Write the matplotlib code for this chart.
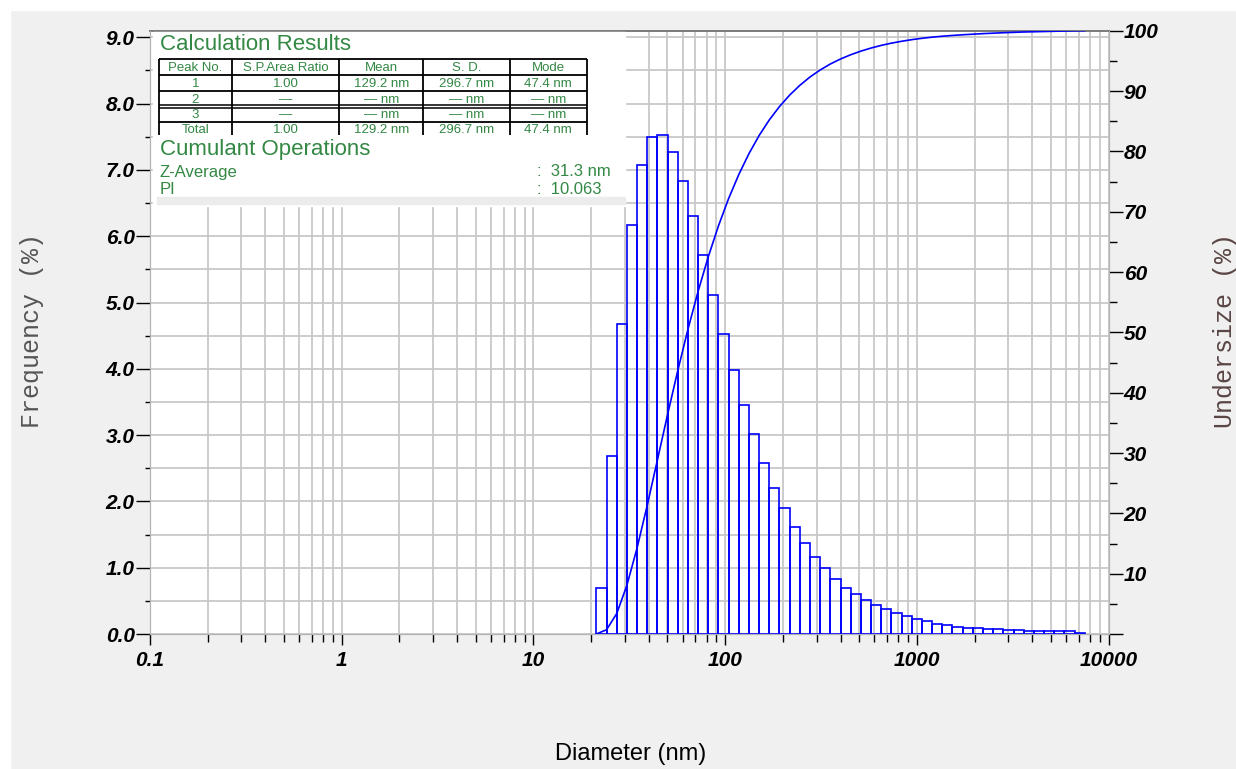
import numpy as np
import matplotlib
matplotlib.use("Agg")
import matplotlib.pyplot as plt
from matplotlib.patches import Rectangle
from matplotlib.ticker import FixedLocator, LogLocator, MultipleLocator, NullFormatter

# ─── Data ─────────────────────────────────────────────────────────────────────

# histogram bin edges (nm), log-spaced
bin_edges = [21.3, 24.07, 27.20, 30.74, 34.73, 39.25, 44.35, 50.11, 56.63, 63.99,
             72.31, 81.71, 92.33, 104.3, 117.9, 133.2, 150.6, 170.1, 192.2, 217.2,
             245.5, 277.4, 313.4, 354.2, 400.2, 452.3, 511.1, 577.5, 652.6, 737.4,
             833.3, 941.6, 1064, 1202, 1359, 1535, 1735, 1960, 2215, 2503,
             2828, 3196, 3611, 4081, 4611, 5211, 5888, 6653, 7518]

# frequency (%) per bin
frequency = [0.70, 2.68, 4.68, 6.17, 7.08, 7.50, 7.52, 7.27, 6.84, 6.30,
             5.72, 5.11, 4.53, 3.98, 3.46, 3.01, 2.58, 2.20, 1.90, 1.62,
             1.38, 1.16, 0.99, 0.83, 0.70, 0.60, 0.51, 0.44, 0.37, 0.31,
             0.27, 0.22, 0.19, 0.155, 0.13, 0.11, 0.095, 0.095, 0.075, 0.075,
             0.06, 0.06, 0.04, 0.04, 0.04, 0.04, 0.04, 0.015]

x_ticks = [0.1, 1, 10, 100, 1000, 10000]
x_ticklabels = ["0.1", "1", "10", "100", "1000", "10000"]

table_header = ["Peak No.", "S.P.Area Ratio", "Mean", "S. D.", "Mode"]
table_rows = [
    ["1", "1.00", "129.2 nm", "296.7 nm", "47.4 nm"],
    ["2", "\u2014", "\u2014 nm", "\u2014 nm", "\u2014 nm"],
    ["3", "\u2014", "\u2014 nm", "\u2014 nm", "\u2014 nm"],
    ["Total", "1.00", "129.2 nm", "296.7 nm", "47.4 nm"],
]
z_average = "31.3 nm"
pi_value = "10.063"

# ─── Style ────────────────────────────────────────────────────────────────────

W, H = 1236, 769
BG = "#f0f0f0"
GRID = "#c8c8c8"
BLUE = "#0000ff"
GREEN = "#338844"
SANS = "Liberation Sans"

fig = plt.figure(figsize=(W / 100, H / 100), dpi=100, facecolor=BG)
fig.add_artist(Rectangle((0, 0), 10 / W, 1, transform=fig.transFigure,
                         color="white", zorder=-1))
fig.add_artist(Rectangle((0, 1 - 10 / H), 1, 10 / H, transform=fig.transFigure,
                         color="white", zorder=-1))

# plot box in pixels: x 150..1108.5, y 30.7..634
x0, x1, y_top, y_bot = 150, 1108.5, 30.7, 634
ax = fig.add_axes([x0 / W, 1 - y_bot / H, (x1 - x0) / W, (y_bot - y_top) / H])
ax.set_facecolor("white")
ax.set_xscale("log")
ax.set_xlim(0.1, 10000)
ax.set_ylim(0, 9.1)

# ─── Histogram ────────────────────────────────────────────────────────────────

edges = np.array(bin_edges)
freq = np.array(frequency)
ax.bar(edges[:-1], freq, width=np.diff(edges), align="edge", fill=False,
       edgecolor=BLUE, linewidth=1.2, zorder=3)

# ─── Axes / ticks ─────────────────────────────────────────────────────────────

ax.xaxis.set_major_locator(FixedLocator(x_ticks))
ax.set_xticklabels(x_ticklabels)
ax.xaxis.set_minor_locator(LogLocator(base=10, subs=np.arange(2, 10)))
ax.xaxis.set_minor_formatter(NullFormatter())
ax.yaxis.set_minor_locator(MultipleLocator(0.5))
ax.set_yticks(np.arange(0, 9.01, 1.0))
ax.set_yticklabels([f"{v:.1f}" for v in np.arange(0, 9.01, 1.0)])

ax.grid(which="both", color=GRID, linewidth=1.3, zorder=0)
ax.set_axisbelow(True)

ax.tick_params(axis="x", which="major", direction="out", length=8, width=1,
               color="black", pad=4, labelsize=15)
ax.tick_params(axis="x", which="minor", direction="out", length=5.5, width=1,
               color="black")
ax.tick_params(axis="y", which="major", direction="out", length=10, width=1,
               color="black", pad=1, labelsize=15)
ax.tick_params(axis="y", which="minor", direction="out", length=3.5, width=1,
               color="black")

for lbl in ax.get_xticklabels() + ax.get_yticklabels():
    lbl.set_fontfamily(SANS)
    lbl.set_fontweight("bold")
    lbl.set_fontstyle("italic")

for side in ("left", "bottom", "right"):
    ax.spines[side].set_color("#b4b4b4")
ax.spines["top"].set_color("#7a7a7a")
ax.spines["top"].set_linewidth(1.4)

# ─── Cumulative undersize on the right axis ───────────────────────────────────

ax2 = ax.twinx()
undersize = np.concatenate([[0.0], np.cumsum(freq)])
undersize = undersize / undersize[-1] * 100
ax2.plot(edges, undersize, color=BLUE, linewidth=1.2, zorder=4)
ax2.set_ylim(0, 100)
ax2.set_yticks(np.arange(0, 101, 10))
ax2.set_yticklabels([""] + [str(v) for v in range(10, 101, 10)])
ax2.yaxis.set_minor_locator(MultipleLocator(5))
ax2.tick_params(axis="y", which="major", direction="out", length=10, width=1,
                color="black", pad=1, labelsize=15)
ax2.tick_params(axis="y", which="minor", direction="out", length=5.5, width=1,
                color="black")
for lbl in ax2.get_yticklabels():
    lbl.set_fontfamily(SANS)
    lbl.set_fontweight("bold")
    lbl.set_fontstyle("italic")
for side in ("left", "bottom", "right"):
    ax2.spines[side].set_color("#b4b4b4")
ax2.spines["top"].set_visible(False)

# ─── Axis titles ──────────────────────────────────────────────────────────────

fig.text(32 / W, 1 - 331 / H, "Frequency (%)", rotation=90, ha="center",
         va="center", fontsize=18, family="Liberation Mono", color="#555555")
fig.text(1225 / W, 1 - 331 / H, "Undersize (%)", rotation=90, ha="center",
         va="center", fontsize=18, family="Liberation Mono", color="#5a4545")
fig.text(631 / W, 1 - 754 / H, "Diameter (nm)", ha="center", va="center",
         fontsize=17, family=SANS, color="black")

# ─── Results panel ────────────────────────────────────────────────────────────

ov = fig.add_axes([0, 0, 1, 1], zorder=5)
ov.set_xlim(0, W)
ov.set_ylim(H, 0)
ov.axis("off")
ov.patch.set_alpha(0)

ov.add_patch(Rectangle((153, 31.5), 472, 174, color="white", zorder=1))
ov.add_patch(Rectangle((157, 197), 468, 7, color="#ececec", zorder=2))

ov.text(160, 45, "Calculation Results", fontsize=16, family=SANS, color=GREEN,
        va="center", ha="left", zorder=3)

col_x = [159.3, 231.7, 339.3, 423.3, 510, 586.7]
row_y = [59.3, 75, 91, 106.7, 122.3, 135]
for x in col_x:
    ov.plot([x, x], [row_y[0], row_y[-1]], color="black", lw=1.3, zorder=3,
            solid_capstyle="butt")
for i, y in enumerate(row_y[:-1]):
    if i == 3:
        # double rule between peak 2 and peak 3
        for dy in (-1.6, 1.6):
            ov.plot([col_x[0], col_x[-1]], [y + dy, y + dy], color="black",
                    lw=1.1, zorder=3, solid_capstyle="butt")
    else:
        ov.plot([col_x[0], col_x[-1]], [y, y], color="black", lw=1.3,
                zorder=3, solid_capstyle="butt")

for r, cells in enumerate([table_header] + table_rows):
    yc = (row_y[r] + row_y[r + 1]) / 2 + 1
    for c, txt in enumerate(cells):
        xc = (col_x[c] + col_x[c + 1]) / 2
        ov.text(xc, yc, txt, fontsize=9.5, family=SANS, color=GREEN,
                ha="center", va="center", zorder=4)

ov.text(160, 150, "Cumulant Operations", fontsize=16, family=SANS, color=GREEN,
        va="center", ha="left", zorder=3)
ov.text(160, 172, "Z-Average", fontsize=12, family=SANS, color=GREEN,
        va="center", ha="left", zorder=3)
ov.text(160, 189, "PI", fontsize=12, family=SANS, color=GREEN,
        va="center", ha="left", zorder=3)
ov.text(537, 172, ":  " + z_average, fontsize=12, family=SANS, color=GREEN,
        va="center", ha="left", zorder=3)
ov.text(537, 189, ":  " + pi_value, fontsize=12, family=SANS, color=GREEN,
        va="center", ha="left", zorder=3)

fig.savefig("out.png", dpi=100, facecolor=fig.get_facecolor())
